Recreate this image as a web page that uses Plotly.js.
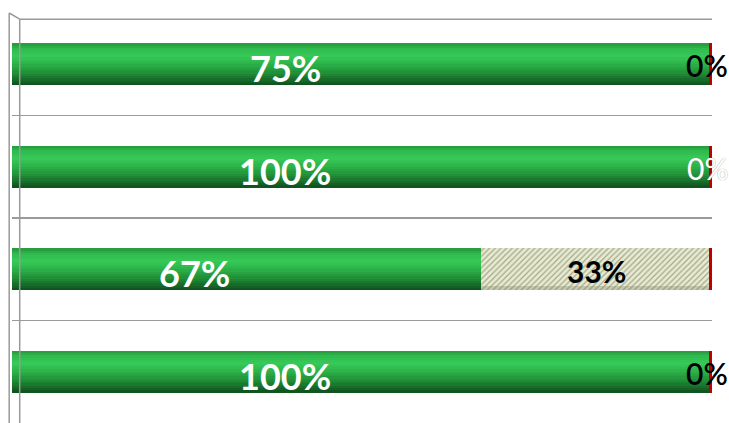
<!DOCTYPE html>
<html>
<head>
<meta charset="utf-8">
<script src="https://cdn.plot.ly/plotly-3.0.1.min.js"></script>
<style>html,body{margin:0;padding:0;background:#fff;}#chart{width:729px;height:423px;}</style>
</head>
<body>
<div id="chart"></div>
<script>
// ---- data ----
var categories = ['Q1', 'Q2', 'Q3', 'Q4'];
var greenValues = [100, 100, 67, 100];
var greenLabels = ['75%', '100%', '67%', '100%'];
var hatchValues = [0, 0, 33, 0];
var hatchLabels = ['', '', '33%', ''];
var redValues = [0.4, 0.4, 0.4, 0.4];
var redLabels = ['0%', '0%', '', '0%'];

// ---- styling ----
var W = 0.41;
var N = 18;
// vertical colour profile of the cylinder (top -> bottom)
var stops = [
  [0.00, [38, 150, 60]],
  [0.12, [46, 185, 76]],
  [0.30, [54, 202, 88]],
  [0.50, [44, 178, 72]],
  [0.72, [32, 140, 54]],
  [0.88, [22, 104, 40]],
  [1.00, [14, 78, 30]]
];
function colAt(t) {
  for (var k = 1; k < stops.length; k++) {
    if (t <= stops[k][0]) {
      var a = stops[k - 1], b = stops[k];
      var f = (t - a[0]) / (b[0] - a[0]);
      var c = a[1].map(function (v, j) { return Math.round(v + (b[1][j] - v) * f); });
      return 'rgb(' + c.join(',') + ')';
    }
  }
  return 'rgb(' + stops[stops.length - 1][1].join(',') + ')';
}
var traces = [];
for (var s = 0; s < N; s++) {
  var t0 = s / N;
  var wStrip = (s === N - 1) ? W / N : W / N * 1.5;
  traces.push({
    type: 'bar', orientation: 'h', y: categories, x: greenValues, base: 0,
    width: wStrip, offset: -W / 2 + W * t0,
    marker: {color: colAt((s + 0.5) / N), line: {width: 0}}, hoverinfo: 'skip', showlegend: false
  });
}
var hatchBase = greenValues.slice();
traces.push({
  type: 'bar', orientation: 'h', y: categories, x: hatchValues, base: hatchBase,
  width: W, offset: -W / 2,
  marker: {color: '#e4e7cc', line: {width: 0},
    pattern: {shape: '/', fgcolor: '#a3a78a', bgcolor: '#e8ebd2', size: 4, solidity: 0.3}},
  hoverinfo: 'skip', showlegend: false
});
traces.push({
  type: 'bar', orientation: 'h', y: categories, x: hatchValues, base: hatchBase,
  width: W * 0.1, offset: W / 2 - W * 0.1,
  marker: {color: 'rgba(120,125,95,0.3)', line: {width: 0}},
  hoverinfo: 'skip', showlegend: false
});
var redBase = greenValues.map(function (g, i) { return g + hatchValues[i] - redValues[i]; });
traces.push({
  type: 'bar', orientation: 'h', y: categories, x: redValues, base: redBase,
  width: W, offset: -W / 2,
  marker: {color: '#c00000', line: {width: 0}}, hoverinfo: 'skip', showlegend: false
});

var annotations = [];
categories.forEach(function (c, i) {
  annotations.push({
    x: greenValues[i] * 0.39, y: c, xref: 'x', yref: 'y', text: greenLabels[i],
    showarrow: false, yshift: -4,
    font: {family: 'Lato, sans-serif', size: 36, color: '#ffffff', weight: 'bold'}
  });
  if (hatchLabels[i]) {
    annotations.push({
      x: greenValues[i] + hatchValues[i] / 2, y: c, xref: 'x', yref: 'y', text: hatchLabels[i],
      showarrow: false, yshift: -2,
      font: {family: 'Lato, sans-serif', size: 30, color: '#000000', weight: 'bold'}
    });
  }
  if (redLabels[i]) {
    var white = (i === 1);
    annotations.push({
      x: greenValues[i] + hatchValues[i], y: c, xref: 'x', yref: 'y', text: redLabels[i],
      showarrow: false, xshift: -5, yshift: -1,
      font: {family: 'Lato, sans-serif', size: 30, color: white ? '#ffffff' : '#000000',
        weight: white ? 'normal' : 600,
        shadow: white ? '0px 0px 1px #808080' : 'none'}
    });
  }
});

var grey = '#9a9a9a';
var layout = {
  width: 729, height: 423,
  margin: {l: 12, r: 17, t: 13, b: 0},
  paper_bgcolor: '#ffffff', plot_bgcolor: '#ffffff',
  barmode: 'overlay', bargap: 0,
  showlegend: false,
  xaxis: {range: [0, 100], showgrid: false, zeroline: false, showticklabels: false, ticks: '', showline: false, fixedrange: true},
  yaxis: {type: 'category', autorange: 'reversed', showticklabels: false, ticks: '',
    tickson: 'boundaries', showgrid: true, gridcolor: grey, gridwidth: 1.5,
    zeroline: false, showline: false, fixedrange: true},
  shapes: [
    {type: 'line', xref: 'paper', yref: 'paper', x0: -0.004, x1: -0.004, y0: 0, y1: 1.0, line: {color: grey, width: 1.5}},
    {type: 'line', xref: 'paper', yref: 'paper', x0: 0.011, x1: 0.011, y0: 0, y1: 0.985, line: {color: grey, width: 1.5}},
    {type: 'line', xref: 'paper', yref: 'paper', x0: -0.004, x1: 0.011, y0: 1.0, y1: 0.985, line: {color: grey, width: 1.5}},
    {type: 'line', xref: 'paper', yref: 'paper', x0: 0.011, x1: 1.0, y0: 0.985, y1: 0.985, line: {color: grey, width: 1.5}}
  ],
  annotations: annotations
};

Plotly.newPlot('chart', traces, layout, {staticPlot: true, displayModeBar: false});
</script>
</body>
</html>
